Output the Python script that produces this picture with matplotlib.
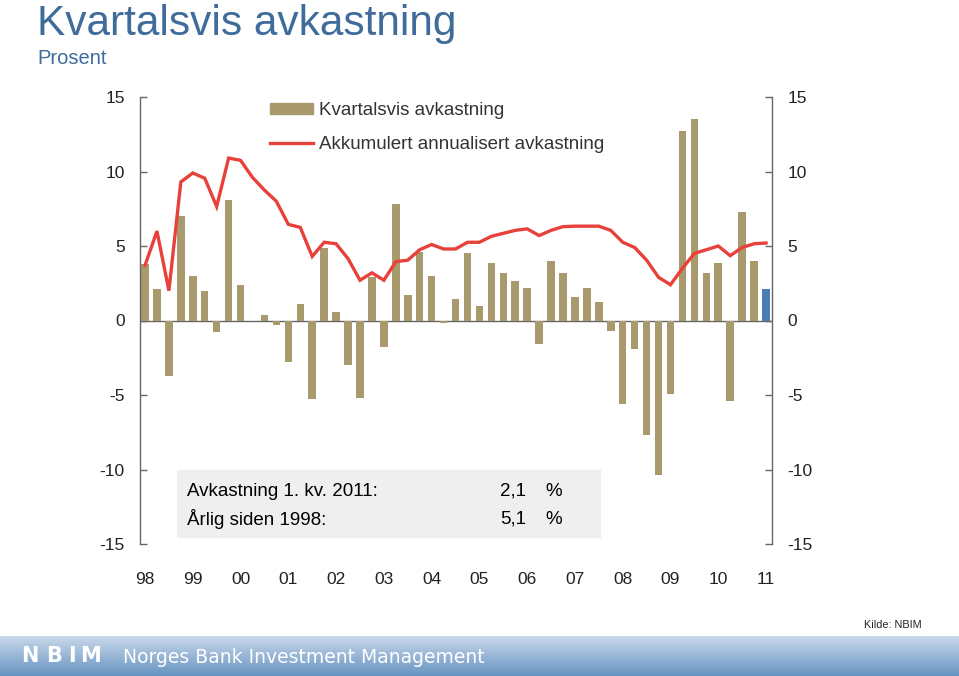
import matplotlib

matplotlib.use("Agg")
import matplotlib.pyplot as plt
import numpy as np

plt.rcParams["font.family"] = ["Liberation Sans", "DejaVu Sans"]

# kvartalsvis avkastning 1998 K1 - 2011 K1, prosent
quarterly = [
    3.8, 2.1, -3.7, 7.0,
    3.0, 2.0, -0.8, 8.1,
    2.4, 0.0, 0.4, -0.3,
    -2.8, 1.1, -5.3, 4.85,
    0.6, -3.0, -5.2, 2.9,
    -1.8, 7.8, 1.7, 4.6,
    3.0, -0.15, 1.45, 4.5,
    1.0, 3.85, 3.2, 2.65,
    2.2, -1.6, 4.0, 3.2,
    1.55, 2.2, 1.25, -0.7,
    -5.6, -1.9, -7.7, -10.35,
    -4.9, 12.75, 13.5, 3.2,
    3.85, -5.4, 7.25, 4.0,
    2.1,
]
# akkumulert annualisert avkastning
cumulative = [
    3.7, 6.0, 2.0, 9.3,
    9.9, 9.55, 7.65, 10.9,
    10.75, 9.6, 8.75, 8.0,
    6.45, 6.25, 4.3, 5.25,
    5.15, 4.15, 2.7, 3.2,
    2.7, 3.95, 4.05, 4.75,
    5.1, 4.8, 4.8, 5.25,
    5.25, 5.65, 5.85, 6.05,
    6.15, 5.7, 6.05, 6.3,
    6.33, 6.33, 6.33, 6.05,
    5.25, 4.9, 4.05, 2.9,
    2.4, 3.5, 4.5, 4.75,
    5.0, 4.35, 4.9, 5.15,
    5.2,
]
year_labels = ["98", "99", "00", "01", "02", "03", "04",
               "05", "06", "07", "08", "09", "10", "11"]
summary_labels = ["Avkastning 1. kv. 2011:", "Årlig siden 1998:"]
summary_values = ["2,1", "5,1"]

BAR = "#a89a6d"
BAR_LAST = "#4a7db3"
LINE = "#e8413c"
BLUE_TEXT = "#3f6c9b"
GREY = "#666666"

fig = plt.figure(figsize=(9.59, 6.76), dpi=100)

# bunnfelt med gradient
band = fig.add_axes([0, 0, 1, 40 / 676])
grad = np.linspace(0, 1, 100).reshape(-1, 1)
cmap = matplotlib.colors.LinearSegmentedColormap.from_list("band", ["#6894c2", "#c8d8ea"])
band.imshow(grad, aspect="auto", cmap=cmap, origin="lower", extent=[0, 1, 0, 1])
band.set_axis_off()
for letter, lx in zip("NBIM", [21, 46, 68, 80]):
    band.text(lx / 959, 0.34, letter, color="white", fontsize=15, fontweight="bold",
              family="DejaVu Sans", ha="left", va="baseline", transform=band.transAxes)
band.text(123 / 959, 0.33, "Norges Bank Investment Management", color="white",
          fontsize=13.5, family="DejaVu Sans", ha="left", va="baseline",
          transform=band.transAxes)

fig.text(37 / 959, 1 - 35 / 676, "Kvartalsvis avkastning", color=BLUE_TEXT,
         fontsize=30.5, va="baseline", ha="left")
fig.text(37 / 959, 1 - 64 / 676, "Prosent", color=BLUE_TEXT,
         fontsize=14.5, va="baseline", ha="left")
fig.text(922 / 959, 1 - 625 / 676, "Kilde: NBIM", color="#222222",
         fontsize=7.8, va="center", ha="right")

ax = fig.add_axes([140 / 959, 132 / 676, 632 / 959, 447 / 676])
x = np.arange(len(quarterly))
colors = [BAR] * (len(quarterly) - 1) + [BAR_LAST]
ax.bar(x, quarterly, width=0.63, color=colors, zorder=2)
ax.axhline(0, color=GREY, lw=1.0, zorder=1)
ax.plot(x, cumulative, color=LINE, lw=2.4, zorder=3, solid_joinstyle="miter")

ax.set_xlim(-0.42, 52.5)
ax.set_ylim(-15, 15)
yt = np.arange(-15, 16, 5)
ax.set_yticks(yt)
ax.set_yticklabels([str(v) for v in yt])
ax.tick_params(axis="y", direction="in", length=5, width=1.0, color=GREY,
               labelsize=12.5, pad=11, labelcolor="#222222",
               left=True, right=True, labelleft=True, labelright=True)
ax.set_xticks(x[::4])
ax.set_xticklabels(year_labels)
ax.tick_params(axis="x", length=0, labelsize=12.5, pad=20, labelcolor="#222222")
for side in ["top", "bottom"]:
    ax.spines[side].set_visible(False)
for side in ["left", "right"]:
    ax.spines[side].set_color(GREY)
    ax.spines[side].set_linewidth(1.0)

# legend
h_bar = matplotlib.patches.Patch(color=BAR)
h_line = matplotlib.lines.Line2D([], [], color=LINE, lw=2.4)
ax.legend([h_bar, h_line], ["Kvartalsvis avkastning", "Akkumulert annualisert avkastning"],
          loc="upper left", bbox_to_anchor=(130 / 632, 1 - 5 / 447), frameon=False,
          fontsize=13.5, handlelength=2.3, handleheight=0.55, handletextpad=0.33,
          labelspacing=0.9, borderpad=0, borderaxespad=0, labelcolor="#333333")

# boks med nøkkeltall
box = matplotlib.patches.Rectangle((37 / 632, 7 / 447), 423 / 632, 67 / 447,
                                   transform=ax.transAxes, color="#efefef", zorder=0)
ax.add_patch(box)
for i, (lab, val) in enumerate(zip(summary_labels, summary_values)):
    yy = (544 - 491 - 28 * i) / 447
    ax.text(47 / 632, yy, lab, transform=ax.transAxes, fontsize=13.5,
            va="center", zorder=4)
    ax.text(360 / 632, yy, val, transform=ax.transAxes, fontsize=13.5,
            va="center", zorder=4)
    ax.text(405 / 632, yy, "%", transform=ax.transAxes, fontsize=13.5,
            va="center", zorder=4)

fig.savefig("out.png", dpi=100)
